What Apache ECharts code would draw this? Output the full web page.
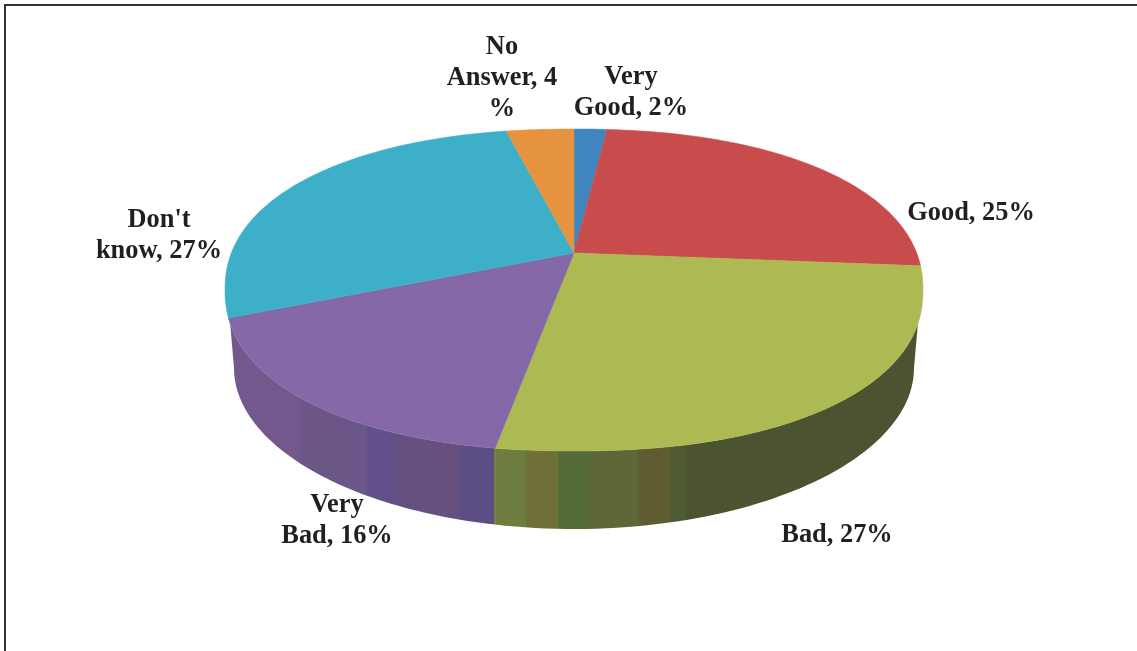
<!DOCTYPE html>
<html>
<head>
<meta charset="utf-8">
<style>html,body{margin:0;padding:0;background:#fff}#c{width:1137px;height:651px}</style>
<script src="https://cdn.jsdelivr.net/npm/echarts@6/dist/echarts.min.js"></script>
</head>
<body>
<div id="c"></div>
<script>
const categories = ["Very Good", "Good", "Bad", "Very Bad", "Don't know", "No Answer"];
// Shares; each rounds to the printed label
const percentages = [1.9, 24.4, 26.5, 15.8, 27.4, 3.9];
const sliceLabels = ["Very\nGood, 2%", "Good, 25%", "Bad, 27%", "Very\nBad, 16%", "Don't\nknow, 27%", "No\nAnswer, 4\n%"];
const topColors = ["#3f86c0", "#c94c4d", "#adb952", "#8468a8", "#3eafc8", "#e69340"];

// Layout of the tilted pie
const TOP = {cx: 574, cy: 290, rx: 349, ry: 161, apex: -0.23, square: 2.2};
const LOW = {cx: 574, cy: 368, rx: 340, ry: 161};
const START_DEG = 0, WALL_MIN_Y = 322;
const total = percentages.reduce((a, b) => a + b, 0);

function rimPoint(tDeg, r) {
  // t clockwise from 12 o'clock on a true circle, then projected by perspective
  const t = tDeg * Math.PI / 180, x = Math.sin(t) * r, y = -Math.cos(t) * r, e = TOP.apex;
  const d = 1 + e * y;
  let u = x * Math.sqrt(1 - e * e) / d, v = (y + e) / d;
  if (r === 1) {
    const n = TOP.square, k = 1 / Math.pow(Math.pow(Math.abs(u), n) + Math.pow(Math.abs(v), n), 1 / n);
    u *= k; v *= k;
  }
  return [TOP.cx + TOP.rx * u, TOP.cy + TOP.ry * v];
}
function sliceRange(i) {
  let s = 0;
  for (let k = 0; k < i; k++) s += percentages[k];
  return [START_DEG + s / total * 360, START_DEG + (s + percentages[i]) / total * 360];
}
function arc(a, b) {
  const pts = [], n = Math.max(4, Math.ceil(Math.abs(b - a)));
  for (let j = 0; j <= n; j++) pts.push(rimPoint(a + (b - a) * j / n, 1));
  return pts;
}
function lowerPath(x0, x1) {
  const clamp = x => Math.max(-1, Math.min(1, (x - LOW.cx) / LOW.rx));
  const a = Math.acos(clamp(x0)), b = Math.acos(clamp(x1)), pts = [];
  for (let j = 0; j <= 60; j++) {
    const th = a + (b - a) * j / 60;
    pts.push([LOW.cx + LOW.rx * Math.cos(th), LOW.cy + LOW.ry * Math.sin(th)]);
  }
  return pts;
}
// Banded wall shading: [x, colour] runs left to right
const wallBands = [
  [225, "#72588c"], [300, "#6a5787"], [367, "#63508a"], [397, "#66507f"], [460, "#5d4d85"],
  [494, "#6d7d40"], [526, "#6f7038"], [558, "#566c38"], [590, "#5f6637"], [638, "#5e5c30"],
  [670, "#4f5c33"], [686, "#4b5330"], [930, "#4b5330"]
];
function wallFill() {
  const x0 = wallBands[0][0], x1 = wallBands[wallBands.length - 1][0], stops = [];
  wallBands.forEach((b, i) => {
    const o = (b[0] - x0) / (x1 - x0);
    if (i > 0) stops.push({offset: o, color: wallBands[i - 1][1]});
    stops.push({offset: o, color: b[1]});
  });
  return new echarts.graphic.LinearGradient(x0, 0, x1, 0, stops, true);
}

function renderWall(params) {
  const i = params.dataIndex, r = sliceRange(i);
  const upper = arc(r[0], r[1]).filter(p => p[1] >= WALL_MIN_Y);
  if (upper.length < 2) return {type: 'group', children: []};
  const first = upper[0], last = upper[upper.length - 1];
  const points = upper.concat(lowerPath(last[0], first[0]));
  return {type: 'polygon', shape: {points}, style: {fill: wallFill(), stroke: null}};
}
function renderTop(params) {
  const i = params.dataIndex, r = sliceRange(i);
  const points = [rimPoint(0, 0)].concat(arc(r[0], r[1]));
  return {type: 'polygon', shape: {points}, style: {fill: topColors[i], stroke: topColors[i], lineWidth: 0.5}};
}

const labelStyle = {fontFamily: '"Liberation Serif", serif', fontWeight: 'bold', fontSize: 26.4, lineHeight: 31,
  fill: '#231f20', align: 'center', verticalAlign: 'middle'};
const labelAt = [[631, 93], [971, 213], [837, 535], [337, 521], [159, 236], [502, 78]];

const chart = echarts.init(document.getElementById('c'), null, {renderer: 'canvas'});
chart.setOption({
  animation: false,
  backgroundColor: '#fff',
  series: [
    {type: 'custom', name: 'wall', coordinateSystem: 'none', z: 1, silent: true, renderItem: renderWall,
     data: percentages.map((v, i) => ({name: categories[i], value: v}))},
    {type: 'custom', name: 'Share', coordinateSystem: 'none', z: 2, renderItem: renderTop,
     data: percentages.map((v, i) => ({name: categories[i], value: v}))}
  ],
  graphic: {elements: [
    {type: 'line', z: 5, shape: {x1: 5, y1: 5, x2: 1137, y2: 5}, style: {stroke: '#333', lineWidth: 2}},
    {type: 'line', z: 5, shape: {x1: 5, y1: 4, x2: 5, y2: 651}, style: {stroke: '#333', lineWidth: 2}}
  ].concat(sliceLabels.map((t, i) => ({
    type: 'text', z: 6, x: labelAt[i][0], y: labelAt[i][1],
    style: Object.assign({text: t}, labelStyle)
  })))}
});
</script>
</body>
</html>
